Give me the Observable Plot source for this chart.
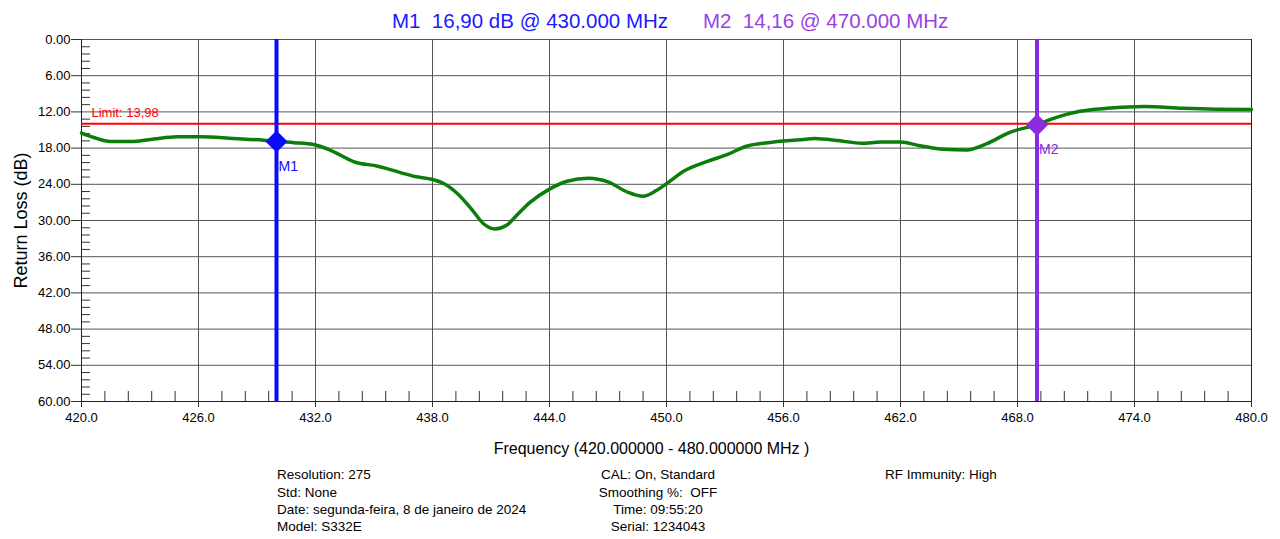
<!DOCTYPE html>
<html><head><meta charset="utf-8">
<script src="https://cdn.jsdelivr.net/npm/d3@7"></script>
<script src="https://cdn.jsdelivr.net/npm/@observablehq/plot@0.6"></script>
<style>
body{margin:0;background:#fff;font-family:"Liberation Sans",Arial,sans-serif;}
#wrap{position:relative;width:1280px;height:539px;overflow:hidden;background:#fff}
.t{position:absolute;white-space:pre;line-height:1}
#chart{position:absolute;left:0;top:30px}
</style></head><body><div id="wrap"><div id="chart"></div></div>
<script>
// ---- data ----
const freq = [420, 420.6, 421.5, 422.7, 423.7, 424.9, 426.1, 427.8, 429.35, 430, 430.9, 431.9, 432.8, 434, 435.2, 436.4, 437.1, 438, 438.6, 439.3, 440, 440.6, 441.2, 441.8, 442.3, 443, 444, 444.9, 446, 447, 448, 448.8, 449.5, 450, 450.9, 452.1, 453.1, 454.1, 455.2, 456.9, 457.6, 458.9, 460, 461, 462, 463, 464.2, 465.4, 466.4, 467.6, 469, 470, 471.2, 472.6, 474.5, 476.5, 478.2, 480];
const returnLoss = [15.5, 16.2, 16.9, 16.9, 16.5, 16.1, 16.1, 16.4, 16.7, 16.9, 17.1, 17.4, 18.4, 20.3, 21.0, 22.1, 22.7, 23.2, 23.9, 25.6, 28.1, 30.5, 31.4, 30.8, 29.2, 27.0, 24.8, 23.5, 23.0, 23.6, 25.3, 26.0, 25.0, 23.9, 21.8, 20.2, 19.1, 17.7, 17.1, 16.6, 16.4, 16.8, 17.2, 17.0, 17.0, 17.6, 18.2, 18.3, 17.3, 15.4, 14.1, 12.9, 11.9, 11.4, 11.1, 11.4, 11.55, 11.6];
const xTicks = [420, 426, 432, 438, 444, 450, 456, 462, 468, 474, 480];
const yTicks = [0, 6, 12, 18, 24, 30, 36, 42, 48, 54, 60];
const markerNames = ["M1", "M2"];
const markerFreq = [430, 469];
const markerRL = [16.9, 14.16];
const titleTexts = ["M1  16,90 dB @ 430.000 MHz", "M2  14,16 @ 470.000 MHz"];
const limitValue = 13.98;
const limitLabel = "Limit: 13,98";
const xLabel = "Frequency (420.000000 - 480.000000 MHz )";
const yLabel = "Return Loss (dB)";
const infoCol1 = ["Resolution: 275", "Std: None", "Date: segunda-feira, 8 de janeiro de 2024", "Model: S332E"];
const infoCol2 = ["CAL: On, Standard", "Smoothing %:  OFF", "Time: 09:55:20", "Serial: 1234043"];
const infoCol3 = ["RF Immunity: High"];

// ---- styles ----
const FONT = "Liberation Sans, Arial, sans-serif";
const markerColors = ["#0a0aff", "#8a2be2"];
const titleColors = ["#1a1aff", "#9b3fe6"];
const gridColor = "#555";

const wrap = document.getElementById("wrap");
// title
const titleLeft = [392, 703];
titleTexts.forEach((t, i) => {
  const d = document.createElement("div");
  d.className = "t"; d.textContent = t;
  Object.assign(d.style, {left: titleLeft[i] + "px", top: "10.5px", fontSize: "20.5px", color: titleColors[i]});
  wrap.appendChild(d);
});
// footer
const lineTops = [468.3, 485.5, 502.5, 519.5];
function addInfo(arr, style) {
  arr.forEach((t, i) => {
    const d = document.createElement("div"); d.className = "t"; d.textContent = t;
    Object.assign(d.style, {top: lineTops[i] + "px", fontSize: "13.5px", color: "#000"}, style);
    wrap.appendChild(d);
  });
}
addInfo(infoCol1, {left: "277px"});
addInfo(infoCol2, {left: "558px", width: "200px", textAlign: "center"});
addInfo(infoCol3, {left: "885px"});

const trace = freq.map((f, i) => ({f, v: returnLoss[i]}));
const minorX = d3.range(0, 51).filter(i => i % 5).map(i => 420 + i * 1.2);
const minorY = d3.range(0, 51).filter(i => i % 5).map(i => i * 1.2);

const diamond = {draw(ctx, size) {
  const r = Math.sqrt(size / Math.PI);
  ctx.moveTo(0, -r); ctx.lineTo(r, 0); ctx.lineTo(0, r); ctx.lineTo(-r, 0); ctx.closePath();
}};

const markerMarks = [];
markerNames.forEach((name, i) => {
  const m = [{f: markerFreq[i], v: markerRL[i], name}];
  markerMarks.push(
    Plot.ruleX(m, {x: "f", y1: 0, y2: 60, stroke: markerColors[i], strokeWidth: 4}),
    Plot.dot(m, {x: "f", y: "v", symbol: diamond, r: 11, fill: markerColors[i], stroke: "none"}),
    Plot.text(m, {x: "f", y: "v", text: "name", dx: 2, dy: 25, textAnchor: "start", fill: markerColors[i], fontSize: 14, fontFamily: FONT})
  );
});

const plot = Plot.plot({
  width: 1280, height: 430,
  marginTop: 9, marginBottom: 59, marginLeft: 81, marginRight: 29,
  style: {fontFamily: FONT, background: "#fff", overflow: "visible"},
  x: {domain: [420, 480]},
  y: {domain: [0, 60], reverse: true},
  marks: [
    Plot.ruleX(xTicks, {y1: 0, y2: 60, stroke: gridColor, strokeWidth: 1}),
    Plot.ruleY(yTicks, {x1: 420, x2: 480, stroke: gridColor, strokeWidth: 1}),
    Plot.ruleX(minorX, {y1: () => 60, y2: () => 60, insetTop: -10, stroke: "#333", strokeWidth: 1}),
    Plot.ruleY(minorY, {x1: () => 420, x2: () => 420, insetRight: -9, stroke: "#333", strokeWidth: 1}),
    Plot.axisX({ticks: xTicks, tickSize: 6, tickPadding: 5, tickFormat: d => d.toFixed(1), label: null, fontSize: 13, stroke: "#333"}),
    Plot.axisY({ticks: yTicks, tickSize: 10, tickPadding: 1, tickFormat: d => d.toFixed(2), label: null, fontSize: 13, stroke: "#333"}),
    Plot.ruleX([420, 480], {y1: 0, y2: 60, stroke: "#222", strokeWidth: 1}),
    Plot.ruleY([60], {x1: 420, x2: 480, stroke: "#222", strokeWidth: 1}),
    Plot.ruleY([limitValue], {x1: 420, x2: 480, stroke: "#ff0000", strokeWidth: 2}),
    Plot.text([limitLabel], {x: 420, y: limitValue, text: d => d, dx: 10, dy: -11, textAnchor: "start", fill: "#ff0000", fontSize: 13, fontFamily: FONT}),
    Plot.line(trace, {x: "f", y: "v", stroke: "#0a7d0a", strokeWidth: 3.5, curve: "monotone-x"}),
    ...markerMarks,
    Plot.text([xLabel], {frameAnchor: "bottom", dx: -15, dy: 52, text: d => d, fontSize: 16, fill: "#000", fontFamily: FONT}),
    Plot.text([yLabel], {frameAnchor: "left", textAnchor: "middle", dx: -60, rotate: -90, text: d => d, fontSize: 18, fill: "#000", fontFamily: FONT})
  ]
});
document.getElementById("chart").appendChild(plot);
</script></body></html>
